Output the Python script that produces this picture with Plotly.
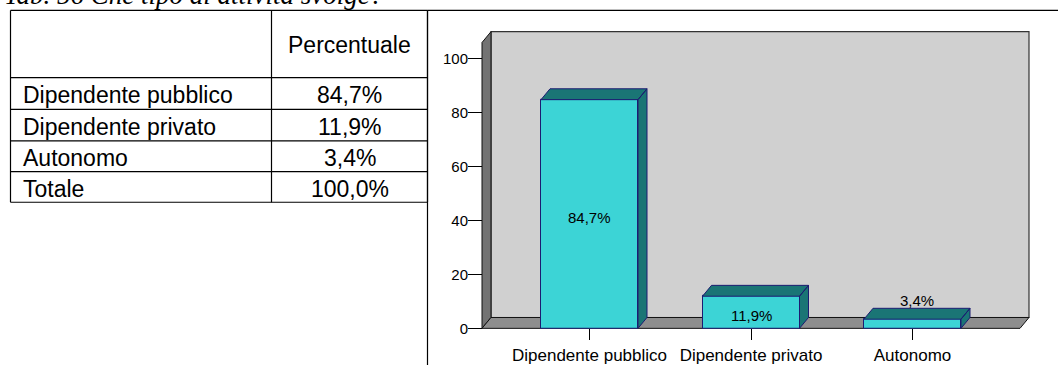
import plotly.graph_objects as go

# ---------------- data ----------------
title_text = "Tab. 56 Che tipo di attività svolge?"
table_header = ["", "Percentuale"]
table_rows = ["Dipendente pubblico", "Dipendente privato", "Autonomo", "Totale"]
table_values = ["84,7%", "11,9%", "3,4%", "100,0%"]

categories = ["Dipendente pubblico", "Dipendente privato", "Autonomo"]
values = [84.7, 11.9, 3.4]
value_labels = ["84,7%", "11,9%", "3,4%"]
y_ticks = [0, 20, 40, 60, 80, 100]

# ---------------- layout geometry (pixels) ----------------
W, H = 1058, 365
def px_x(p):
    return p / W
def px_y(p):
    return (H - p) / H

SANS = "Arial, Liberation Sans, sans-serif"
SERIF = "Times New Roman, Liberation Serif, serif"

# chart scale (front plane)
CAT0_PX, CAT_STEP = 589.5, 161.5      # px of category 0, px per category
Y0_PX, Y_SCALE = 332.0, 2.73          # px of value 0, px per unit
DOM_X = (474, 1040)
DOM_Y = (22, 340)
x_range = [(DOM_X[0] - CAT0_PX) / CAT_STEP, (DOM_X[1] - CAT0_PX) / CAT_STEP]
y_range = [(Y0_PX - DOM_Y[1]) / Y_SCALE, (Y0_PX - DOM_Y[0]) / Y_SCALE]

DX = 9 / CAT_STEP       # depth offset (x)
DY = 11 / Y_SCALE       # depth offset (y)
XL = (482 - CAT0_PX) / CAT_STEP
XR = (1020 - CAT0_PX) / CAT_STEP
WALL_TOP = (Y0_PX - 43) / Y_SCALE
BW = 97 / CAT_STEP

FRONT = "#3CD4D6"
DARK = "#1A7575"
EDGE = "#1C1C72"

fig = go.Figure()

# front faces of the bars
xs = list(range(len(categories)))
fig.add_trace(go.Bar(
    x=xs, y=values, width=BW,
    marker=dict(color=FRONT, line=dict(color=EDGE, width=1)),
    hoverinfo="skip", showlegend=False,
))

# top and side faces of the bars
px_, py_ = [], []
for x, v in zip(xs, values):
    l, r = x - BW / 2, x + BW / 2
    px_ += [l, r, r + DX, l + DX, l, None]
    py_ += [v, v, v + DY, v + DY, v, None]
    px_ += [r, r, r + DX, r + DX, r, None]
    py_ += [0, v, v + DY, DY, 0, None]
fig.add_trace(go.Scatter(
    x=px_, y=py_, mode="lines", fill="toself", fillcolor=DARK,
    line=dict(color=EDGE, width=1), hoverinfo="skip", showlegend=False,
))

shapes = []
# 3D walls
shapes.append(dict(type="rect", xref="x", yref="y", layer="below",
                   x0=XL + DX, y0=DY, x1=XR + DX, y1=WALL_TOP + DY,
                   fillcolor="#D0D0D0", line=dict(color="#333333", width=1.2)))
shapes.append(dict(type="path", xref="x", yref="y", layer="below",
                   path=f"M{XL},0 L{XL},{WALL_TOP} L{XL+DX},{WALL_TOP+DY} L{XL+DX},{DY} Z",
                   fillcolor="#737373", line=dict(color="#111111", width=1)))
shapes.append(dict(type="path", xref="x", yref="y", layer="below",
                   path=f"M{XL},0 L{XR},0 L{XR+DX},{DY} L{XL+DX},{DY} Z",
                   fillcolor="#8E8E8E", line=dict(color="#111111", width=1)))

# chart frame (paper)
LW = 1.2
shapes.append(dict(type="line", xref="paper", yref="paper",
                   x0=px_x(427.5), y0=px_y(10.5), x1=px_x(1070), y1=px_y(10.5),
                   line=dict(color="black", width=LW)))
shapes.append(dict(type="line", xref="paper", yref="paper",
                   x0=px_x(427.5), y0=px_y(10.5), x1=px_x(427.5), y1=px_y(380),
                   line=dict(color="black", width=LW)))

# table grid
T_LEFT, T_MID, T_RIGHT = 10.5, 271.5, 427.5
row_lines = [10.5, 78.5, 110.5, 142.5, 173.5, 204.5]
for yl in row_lines:
    shapes.append(dict(type="line", xref="paper", yref="paper",
                       x0=px_x(T_LEFT), y0=px_y(yl), x1=px_x(T_RIGHT), y1=px_y(yl),
                       line=dict(color="black", width=LW)))
for xl in (T_LEFT, T_MID, T_RIGHT):
    shapes.append(dict(type="line", xref="paper", yref="paper",
                       x0=px_x(xl), y0=px_y(row_lines[0]), x1=px_x(xl), y1=px_y(row_lines[-1]),
                       line=dict(color="black", width=LW)))

annotations = []
# title (partly cut off at the top, as in the source page)
annotations.append(dict(text=title_text, xref="paper", yref="paper",
                        x=px_x(2), y=px_y(-5), xanchor="left", yanchor="middle",
                        showarrow=False,
                        font=dict(family=SERIF, size=27, color="black", style="italic")))
# table header
annotations.append(dict(text=table_header[1], xref="paper", yref="paper",
                        x=px_x((T_MID + T_RIGHT) / 2), y=px_y(46),
                        xanchor="center", yanchor="middle", showarrow=False,
                        font=dict(family=SANS, size=23, color="black")))
# table rows
for i, (lab, val) in enumerate(zip(table_rows, table_values)):
    yc = (row_lines[i + 1] + row_lines[i + 2]) / 2 + 2
    annotations.append(dict(text=lab, xref="paper", yref="paper",
                            x=px_x(21), y=px_y(yc), xanchor="left", yanchor="middle",
                            showarrow=False, font=dict(family=SANS, size=23, color="black")))
    annotations.append(dict(text=val, xref="paper", yref="paper",
                            x=px_x((T_MID + T_RIGHT) / 2), y=px_y(yc),
                            xanchor="center", yanchor="middle",
                            showarrow=False, font=dict(family=SANS, size=23, color="black")))

# bar value labels
for x, v, lab in zip(xs, values, value_labels):
    if v > 8:
        annotations.append(dict(text=lab, xref="x", yref="y", x=x, y=v / 2,
                                xanchor="center", yanchor="middle", showarrow=False,
                                yshift=-3, font=dict(family=SANS, size=15, color="black")))
    else:
        annotations.append(dict(text=lab, xref="x", yref="y", x=x + DX / 2, y=v + DY,
                                xanchor="center", yanchor="bottom", showarrow=False,
                                yshift=-3, font=dict(family=SANS, size=15, color="black")))

fig.update_layout(
    width=W, height=H,
    margin=dict(l=0, r=0, t=0, b=0),
    paper_bgcolor="white", plot_bgcolor="rgba(0,0,0,0)",
    shapes=shapes, annotations=annotations,
    showlegend=False, bargap=0,
    xaxis=dict(domain=[px_x(DOM_X[0]), px_x(DOM_X[1])], range=x_range,
               anchor="free", position=px_y(Y0_PX),
               tickvals=xs, ticktext=categories, ticks="outside", ticklen=11,
               tickwidth=1, tickcolor="black", showgrid=False, zeroline=False,
               showline=False, fixedrange=True,
               tickfont=dict(family=SANS, size=17, color="black")),
    yaxis=dict(domain=[px_y(DOM_Y[1]), px_y(DOM_Y[0])], range=y_range,
               anchor="free", position=px_x(482),
               tickvals=y_ticks, ticks="outside", ticklen=14, ticklabelstandoff=-3,
               tickwidth=1, tickcolor="black", showgrid=False, zeroline=False,
               showline=False, fixedrange=True,
               tickfont=dict(family=SANS, size=15, color="black")),
)

fig.write_html(
    "out.html",
    config={"displayModeBar": False},
    post_script="document.body.style.margin='0';document.body.style.overflow='hidden';",
)
